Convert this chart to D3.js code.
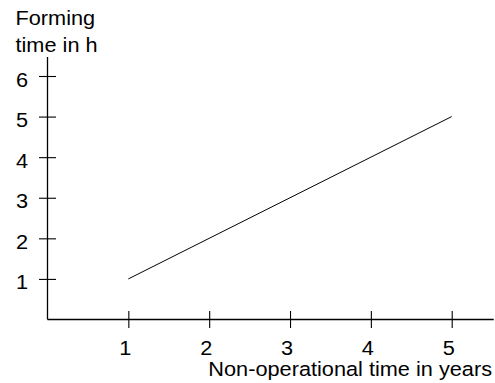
<!DOCTYPE html>
<html lang="en">
<head>
<meta charset="utf-8">
<title>Forming time vs non-operational time</title>
<script src="https://d3js.org/d3.v7.min.js"></script>
<style>
    html, body { margin: 0; padding: 0; background: #fff; }
    svg text { font-family: "Liberation Sans", Arial, sans-serif; font-size: 20.5px; fill: #000; }
</style>
</head>
<body>
<div id="chart"></div>
<script type="text/javascript">
    // data
    var years = [1, 5];
    var formingHours = [1, 5];
    var xTicks = [1, 2, 3, 4, 5];
    var yTicks = [1, 2, 3, 4, 5, 6];
    var xTitle = "Non-operational time in years";
    var yTitle = ["Forming", "time in h"];

    var width = 495, height = 383;
    var stretch = "scale(1.06,1)"; // glyphs in the original are a touch wide

    var svg = d3.select("#chart").append("svg")
        .attr("width", width)
        .attr("height", height);

    var x = d3.scaleLinear().domain([0, 5]).range([47.5, 451.7]);
    var y = d3.scaleLinear().domain([0, 6]).range([319.5, 76]);

    // axis lines run past the last tick
    svg.append("line")
        .attr("x1", x(0)).attr("x2", x(5.52))
        .attr("y1", y(0)).attr("y2", y(0))
        .attr("stroke", "#000").attr("stroke-width", 1.3);
    svg.append("line")
        .attr("x1", x(0)).attr("x2", x(0))
        .attr("y1", y(0)).attr("y2", y(6.47))
        .attr("stroke", "#000").attr("stroke-width", 1.3);

    var gx = svg.append("g")
        .attr("transform", "translate(0," + y(0) + ")")
        .call(d3.axisBottom(x).tickValues(xTicks).tickFormat(d3.format("d")).tickSizeOuter(0));
    gx.select(".domain").remove();
    gx.selectAll(".tick line").attr("y1", -8.5).attr("y2", 8.5).attr("stroke-width", 1.1);
    gx.selectAll(".tick text")
        .attr("y", null).attr("dy", null)
        .attr("text-anchor", "middle")
        .attr("transform", "translate(-3.5,35.5) " + stretch);

    var gy = svg.append("g")
        .attr("transform", "translate(" + x(0) + ",0)")
        .call(d3.axisLeft(y).tickValues(yTicks).tickFormat(d3.format("d")).tickSizeOuter(0));
    gy.select(".domain").remove();
    gy.selectAll(".tick line").attr("x1", -8.5).attr("x2", 8.5).attr("stroke-width", 1.1);
    gy.selectAll(".tick text")
        .attr("x", null).attr("dy", null)
        .attr("text-anchor", "end")
        .attr("transform", "translate(-19.5,10) " + stretch);

    svg.selectAll("g").attr("font-size", null).attr("font-family", null);

    // the data line
    var line = d3.line()
        .x(function (d) { return x(d[0]); })
        .y(function (d) { return y(d[1]); });
    svg.append("path")
        .datum(d3.zip(years, formingHours))
        .attr("d", line)
        .attr("fill", "none")
        .attr("stroke", "#000")
        .attr("stroke-width", 1);

    // titles
    svg.append("text")
        .attr("text-anchor", "end")
        .attr("transform", "translate(492,376) " + stretch)
        .text(xTitle);

    svg.selectAll(".ytitle")
        .data(yTitle)
        .enter().append("text")
        .attr("class", "ytitle")
        .attr("transform", function (d, i) { return "translate(15.5," + (25 + i * 27) + ") " + stretch; })
        .text(function (d) { return d; });
</script>
</body>
</html>
